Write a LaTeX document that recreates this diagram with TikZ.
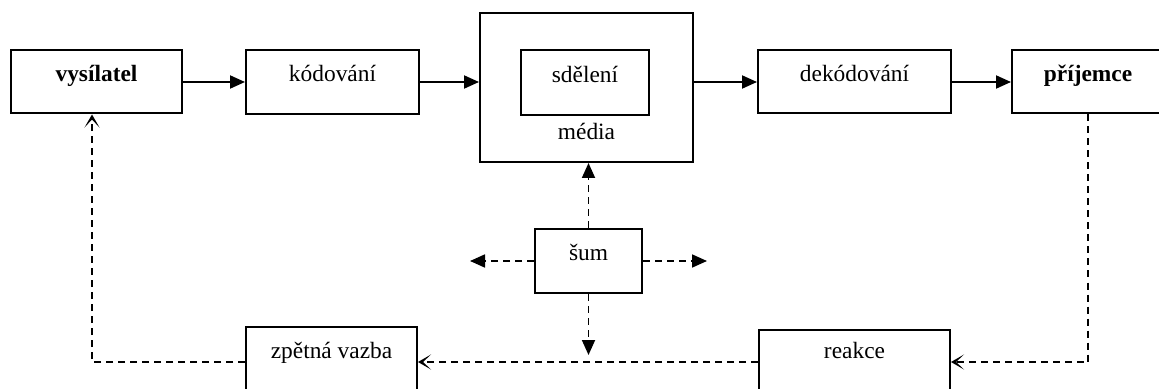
\documentclass[tikz,border=0pt]{standalone}
\usepackage{fontspec}
\setmainfont{Liberation Serif}
\usetikzlibrary{arrows.meta}

\begin{document}
\begin{tikzpicture}[x=0.5pt,y=-0.5pt,line width=1pt,>={Triangle[length=7.5pt,width=6.5pt]},
  box/.style={draw,rectangle,inner sep=0pt,text height=8pt,text depth=8pt,font=\fontsize{11.7}{14}\selectfont},
  lowbox/.style={box,text height=8pt,text depth=12pt},
  noise/.style={->,line width=0.9pt,dash pattern=on 3.5pt off 2.5pt},
  feedback/.style={-{Stealth[length=6.5pt,width=7.5pt,inset=4pt]},line width=0.9pt,dash pattern=on 3.5pt off 2.5pt}]
  \clip (0,0) rectangle (1159,389);
  \useasboundingbox (0,0) rectangle (1159,389);

  \node[box,minimum width=85.5pt,minimum height=31.5pt]  (vys)    at (96.5,82)  {\bfseries vysílatel};
  \node[box,minimum width=86.5pt,minimum height=32pt]    (kod)    at (332.5,82) {kódování};
  \node[box,minimum width=106.5pt,minimum height=74.5pt] (media)  at (586.5,87.5) {};
  \node[box,minimum width=64pt,minimum height=32.5pt]    (sdel)   at (585,82.5) {sdělení};
  \node[font=\fontsize{11.7}{14}\selectfont,anchor=base,inner sep=0pt] (mediatext) at (586.5,140) {média};
  \node[box,minimum width=96.5pt,minimum height=31.5pt]  (dekod)  at (854.5,82) {dekódování};
  \node[box,minimum width=76pt,minimum height=31.5pt]    (prij)   at (1088,82)  {\bfseries příjemce};
  \node[box,minimum width=53.5pt,minimum height=32pt]    (sum)    at (588.5,261) {šum};
  \node[lowbox,minimum width=85.5pt,minimum height=35pt] (zpetna) at (331.5,362) {zpětná vazba};
  \node[lowbox,minimum width=95.5pt,minimum height=32pt] (reakce) at (854.5,362) {reakce};

  \coordinate (nleft)  at (470,261);
  \coordinate (nright) at (707,261);
  \coordinate (ndown)  at (588.5,355);

  % hlavni tok
  \draw[->] (vys.east) -- (kod.west);
  \draw[->] (kod.east) -- (kod.east -| media.west);
  \draw[->] (media.east |- dekod.west) -- (dekod.west);
  \draw[->] (dekod.east) -- (prij.west);

  % sum
  \draw[noise] (sum.north) -- (sum.north |- media.south);
  \draw[noise] (sum.south) -- (ndown);
  \draw[noise] (sum.west) -- (nleft);
  \draw[noise] (sum.east) -- (nright);

  % zpetna vazba
  \draw[feedback] (prij.south) |- (reakce.east);
  \draw[feedback] (reakce.west) -- (zpetna.east);
  \draw[feedback] (zpetna.west) -| ([xshift=-2.25pt]vys.south);
\end{tikzpicture}
\end{document}
